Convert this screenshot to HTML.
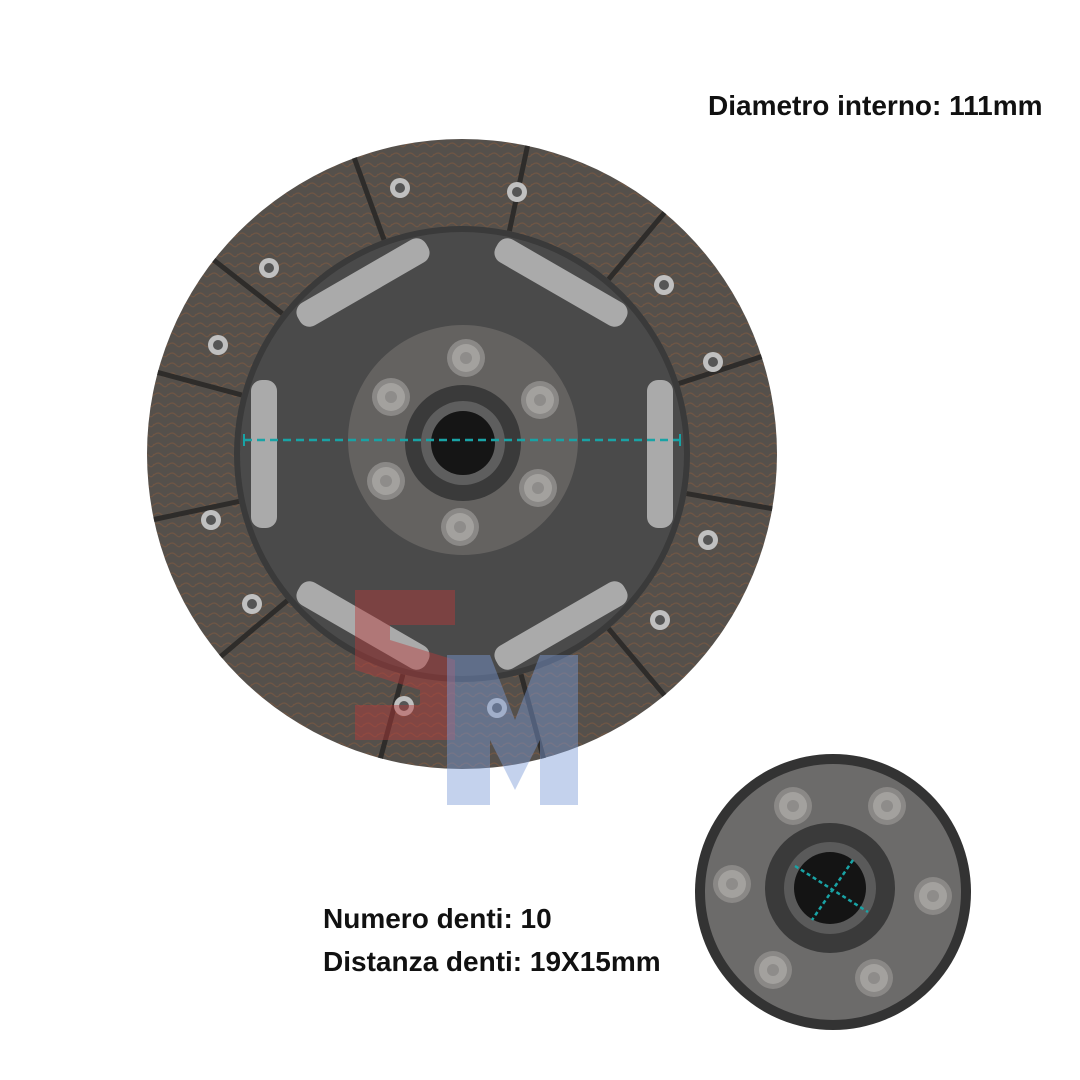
<!DOCTYPE html>
<html><head><meta charset="utf-8"><style>
html,body{margin:0;padding:0;background:#fff;}
.t{position:absolute;font-family:"Liberation Sans",sans-serif;font-size:28px;color:#111;font-weight:bold;letter-spacing:0px}
</style></head><body>
<div style="position:relative;width:1080px;height:1080px;overflow:hidden;background:#fff">
<svg width="1080" height="1080" style="position:absolute;left:0;top:0">
<defs>
<pattern id="tex" width="14" height="10" patternUnits="userSpaceOnUse">
<rect width="14" height="10" fill="#55504b"/>
<path d="M0 5 Q4 1 8 5 T14 4" stroke="#6f5645" stroke-width="1.2" fill="none"/>
</pattern>
<g id="rv"><circle r="19" fill="#8a8886"/><circle r="14" fill="#a3a19e"/><circle r="6" fill="#8e8c8a"/></g>
<g id="bolt"><circle r="10" fill="#c0c0c0"/><circle r="5" fill="#555"/></g>
<g id="slot"><rect x="-13" y="-74" width="26" height="148" rx="11" fill="#aaaaaa"/></g>
</defs>
<circle cx="462" cy="454" r="315" fill="url(#tex)"/>
<g stroke="#2e2c2a" stroke-width="5">
<g transform="translate(462,454)">
<line x1="0" y1="-228" x2="0" y2="-315" transform="rotate(-75)"/>
<line x1="0" y1="-228" x2="0" y2="-315" transform="rotate(-52)"/>
<line x1="0" y1="-228" x2="0" y2="-315" transform="rotate(-20)"/>
<line x1="0" y1="-228" x2="0" y2="-315" transform="rotate(12)"/>
<line x1="0" y1="-228" x2="0" y2="-315" transform="rotate(40)"/>
<line x1="0" y1="-228" x2="0" y2="-315" transform="rotate(72)"/>
<line x1="0" y1="-228" x2="0" y2="-315" transform="rotate(100)"/>
<line x1="0" y1="-228" x2="0" y2="-315" transform="rotate(140)"/>
<line x1="0" y1="-228" x2="0" y2="-315" transform="rotate(165)"/>
<line x1="0" y1="-228" x2="0" y2="-315" transform="rotate(195)"/>
<line x1="0" y1="-228" x2="0" y2="-315" transform="rotate(230)"/>
<line x1="0" y1="-228" x2="0" y2="-315" transform="rotate(258)"/>
</g></g>
<circle cx="462" cy="454" r="228" fill="#3a3a3a"/>
<circle cx="462" cy="454" r="222" fill="#4a4a4a"/>
<g transform="translate(462,454)">
<use href="#slot" transform="rotate(0) translate(-198,0)"/>
<use href="#slot" transform="rotate(180) translate(-198,0)"/>
<use href="#slot" transform="rotate(60) translate(-198,0)"/>
<use href="#slot" transform="rotate(120) translate(-198,0)"/>
<use href="#slot" transform="rotate(-60) translate(-198,0)"/>
<use href="#slot" transform="rotate(-120) translate(-198,0)"/>
</g>
<use href="#bolt" x="400" y="188"/><use href="#bolt" x="517" y="192"/>
<use href="#bolt" x="269" y="268"/><use href="#bolt" x="664" y="285"/>
<use href="#bolt" x="218" y="345"/><use href="#bolt" x="713" y="362"/>
<use href="#bolt" x="211" y="520"/><use href="#bolt" x="708" y="540"/>
<use href="#bolt" x="252" y="604"/><use href="#bolt" x="660" y="620"/>
<use href="#bolt" x="404" y="706"/><use href="#bolt" x="497" y="708"/>
<circle cx="463" cy="440" r="115" fill="#646260"/>
<use href="#rv" x="466" y="358"/><use href="#rv" x="540" y="400"/><use href="#rv" x="538" y="488"/>
<use href="#rv" x="460" y="527"/><use href="#rv" x="386" y="481"/><use href="#rv" x="391" y="397"/>
<circle cx="463" cy="443" r="58" fill="#3a3a3a"/>
<circle cx="463" cy="443" r="42" fill="#5e5e5e"/>
<circle cx="463" cy="443" r="32" fill="#151515"/>
<line x1="244" y1="440" x2="680" y2="440" stroke="#19a3a5" stroke-width="2.5" stroke-dasharray="8,5"/>
<line x1="244" y1="434" x2="244" y2="446" stroke="#19a3a5" stroke-width="2"/>
<line x1="680" y1="434" x2="680" y2="446" stroke="#19a3a5" stroke-width="2"/>
<path d="M355 590 L455 590 L455 625 L390 625 L390 640 L455 660 L455 740 L355 740 L355 705 L420 705 L420 690 L355 670Z" fill="#b83a3a" opacity="0.45"/>
<path d="M447 655 L490 655 L515 720 L540 655 L578 655 L578 805 L540 805 L540 740 L515 790 L490 740 L490 805 L447 805Z" fill="#7d9bd6" opacity="0.45"/>
<circle cx="833" cy="892" r="138" fill="#333"/>
<circle cx="833" cy="892" r="128" fill="#6c6b6a"/>
<use href="#rv" x="793" y="806"/><use href="#rv" x="887" y="806"/>
<use href="#rv" x="732" y="884"/><use href="#rv" x="933" y="896"/>
<use href="#rv" x="773" y="970"/><use href="#rv" x="874" y="978"/>
<circle cx="830" cy="888" r="65" fill="#3a3a3a"/>
<circle cx="830" cy="888" r="46" fill="#5a5a5a"/>
<circle cx="830" cy="888" r="36" fill="#141414"/>
<line x1="795" y1="866" x2="868" y2="912" stroke="#19a3a5" stroke-width="2.5" stroke-dasharray="4,3"/>
<line x1="853" y1="860" x2="812" y2="920" stroke="#19a3a5" stroke-width="2.5" stroke-dasharray="4,3"/>
</svg>
<div class="t" style="left:708px;top:90px">Diametro interno: 111mm</div>
<div class="t" style="left:323px;top:903px">Numero denti: 10</div>
<div class="t" style="left:323px;top:946px">Distanza denti: 19X15mm</div>
</div>
</body></html>
